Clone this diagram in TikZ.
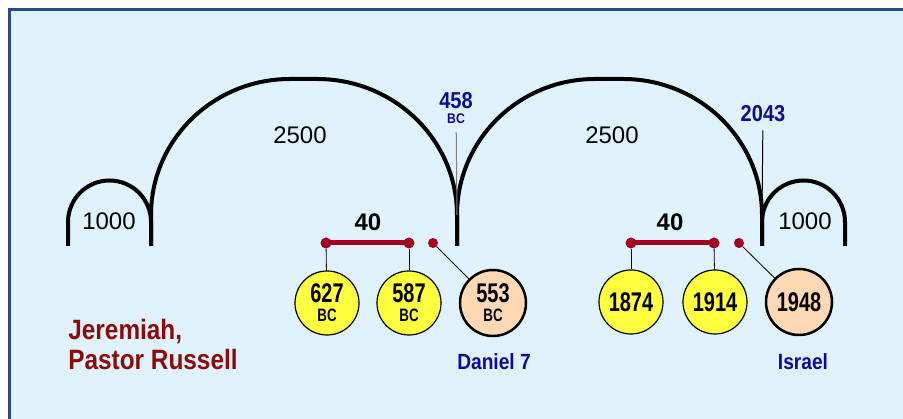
\documentclass[tikz,border=0pt]{standalone}
\usepackage{fontspec}
\setmainfont{Liberation Sans}
\newfontfamily\narrowsans[FakeStretch=0.74]{Liberation Sans}
\newfontfamily\condsans[FakeStretch=0.87]{Liberation Sans}
\usepackage{xcolor}
\usetikzlibrary{positioning, arrows.meta, calc}
\definecolor{skyfill}{HTML}{E0F3FD}
\definecolor{frameblue}{HTML}{2B4A8A}
\definecolor{dateblue}{HTML}{0A0AA0}
\definecolor{barred}{HTML}{A50021}
\definecolor{namered}{HTML}{8C0A0A}
\definecolor{peach}{HTML}{FFD8B4}
\definecolor{sunyellow}{HTML}{FFFF40}

\begin{document}
\begin{tikzpicture}[ x = 1pt, y = 1pt
                   , font = \fontsize{24}{24}\selectfont
                   , arch/.style = { line width = 4pt, line join = round }
                   , bar/.style = { draw = barred, line width = 5pt }
                   , dot/.style = { circle, fill = barred, inner sep = 0pt, minimum size = 11pt }
                   , year/.style = { circle
                                   , draw = black
                                   , line width = 1.2pt
                                   , fill = sunyellow
                                   , minimum size = 64pt
                                   , inner sep = 0pt
                                   , align = center
                                   , font = \narrowsans\bfseries\fontsize{27}{19}\selectfont }
                   , event/.style = { year, fill = peach, line width = 2.5pt, minimum size = 66pt }
                   , tag/.style = { inner sep = 0pt
                                  , text = dateblue
                                  , font = \condsans\bfseries\fontsize{23}{15}\selectfont }
                   ]

  \useasboundingbox (0,0) rectangle (903,419);
  \clip (0,0) rectangle (903,419);
  \draw [fill = skyfill, draw = frameblue, line width = 3pt] (9,-20) rectangle (940,409);

  \draw [arch] (68,173) -- (68,197)
    arc [start angle = 180, end angle = 0, radius = 41.5] -- (151,173);
  \draw [arch] (151,173) -- (151,204)
    arc [start angle = 180, end angle = 90, x radius = 139, y radius = 136] -- (317,340)
    arc [start angle = 90, end angle = 0, x radius = 140, y radius = 136] -- (457,173);
  \draw [arch] (457,173) -- (457,204)
    arc [start angle = 180, end angle = 90, x radius = 138, y radius = 136] -- (623,340)
    arc [start angle = 90, end angle = 0, x radius = 139, y radius = 136] -- (762,173);
  \draw [arch] (762,173) -- (762,197)
    arc [start angle = 180, end angle = 0, radius = 41.5] -- (845,173);

  \node (n1000l) at (109,198) {1000};
  \node (n2500l) at (300,284) {2500};
  \node (n2500r) at (612,284) {2500};
  \node (n1000r) at (805,198) {1000};

  \node (n40l) [font = \bfseries\fontsize{24}{24}\selectfont] at (368,197) {40};
  \node (n40r) [font = \bfseries\fontsize{24}{24}\selectfont] at (670,197) {40};

  \node (y458) [tag, align = center] at (456,311) {458\\{\fontsize{14}{15}\selectfont BC}};
  \node (y2043) [tag] at (763,305) {2043};
  \coordinate (cusp458) at (457,204);
  \coordinate (cusp2043) at (762,204);
  \draw [gray, line width = 1pt, shorten <= 8pt] (y458) -- (cusp458);
  \draw [line width = 1pt, shorten <= 8pt] (y2043) -- (cusp2043);

  \draw [bar] (326,176) -- (409,176);
  \draw [bar] (631,176) -- (714,176);

  \node (d627) [dot] at (326,176) {};
  \node (d587) [dot] at (409,176) {};
  \node (d553) [dot, minimum size = 10pt] at (433,176) {};
  \node (d1874) [dot] at (631,176) {};
  \node (d1914) [dot] at (714,176) {};
  \node (d1948) [dot, minimum size = 10pt] at (739,176) {};

  \node (c627) [year] at (327,116) {627\\{\fontsize{18}{19}\selectfont BC}};
  \node (c587) [year] at (409,116) {587\\{\fontsize{18}{19}\selectfont BC}};
  \node (c553) [event] at (493,116) {553\\{\fontsize{18}{19}\selectfont BC}};
  \node (c1874) [year] at (631,117) {1874};
  \node (c1914) [year] at (715,117) {1914};
  \node (c1948) [event] at (799,117) {1948};

  \tikzset{every path/.style = {line width = 0.8pt}}

  \draw (d627) -- (c627);
  \draw (d587) -- (c587);
  \draw (d553) -- (c553);
  \draw (d1874) -- (c1874);
  \draw (d1914) -- (c1914);
  \draw (d1948) -- (c1948);

  \node (daniel) [tag, font = \condsans\bfseries\fontsize{22}{22}\selectfont] at (494,57) {Daniel 7};
  \node (israel) [tag, font = \condsans\bfseries\fontsize{22}{22}\selectfont] at (803,57) {Israel};
  \node (prophets) [ anchor = north west, inner sep = 0pt, align = left, text = namered
                   , font = \condsans\bfseries\fontsize{28}{30}\selectfont ]
    at (68,100) {Jeremiah,\\Pastor Russell};

\end{tikzpicture}
\end{document}
